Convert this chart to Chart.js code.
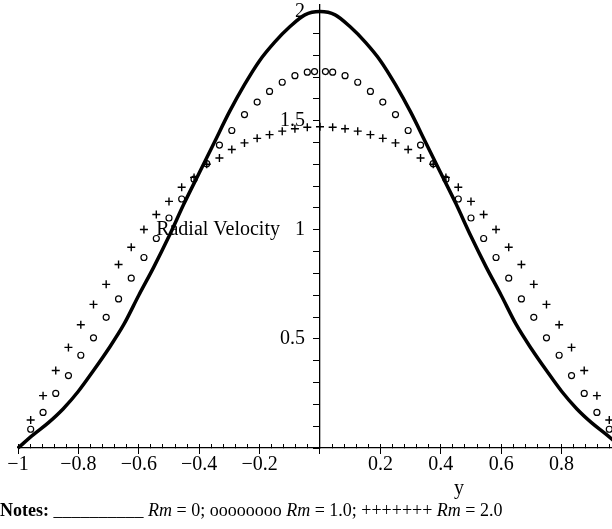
<!DOCTYPE html>
<html><head><meta charset="utf-8">
<script src="https://cdn.jsdelivr.net/npm/chart.js@4/dist/chart.umd.min.js"></script>
<style>
html,body{margin:0;padding:0;background:#fff;}
#wrap{position:relative;width:612px;height:529px;overflow:hidden;}
#note{position:absolute;left:0;top:500px;font-family:"Liberation Serif",serif;font-size:18px;line-height:20px;white-space:pre;color:#000;}
</style></head><body>
<div id="wrap"><canvas id="c" width="612" height="529"></canvas>
<div id="note"><b>Notes:</b> __________ <i>Rm</i> = 0; oooooooo <i>Rm</i> = 1.0; +++++++ <i>Rm</i> = 2.0</div></div>
<script>
// Solid curve, Rm = 0
const lineX = [-1,-0.95,-0.9,-0.85,-0.8,-0.75,-0.7,-0.65,-0.6,-0.55,-0.5,-0.45,-0.4,-0.35,-0.3,-0.25,-0.2,-0.15,-0.1,-0.05,0,
  0.05,0.1,0.15,0.2,0.25,0.3,0.35,0.4,0.45,0.5,0.55,0.6,0.65,0.7,0.75,0.8,0.85,0.9,0.95,1];
const lineY = [0,0.06,0.115,0.18,0.26,0.355,0.455,0.565,0.70,0.83,0.97,1.12,1.26,1.40,1.54,1.665,1.775,1.86,1.93,1.985,2.0,
  1.985,1.93,1.86,1.775,1.665,1.54,1.40,1.26,1.12,0.97,0.83,0.70,0.565,0.455,0.355,0.26,0.18,0.115,0.06,0];
// circles, Rm = 1.0
const circX = [-1,-0.958,-0.917,-0.875,-0.833,-0.792,-0.75,-0.708,-0.667,-0.625,-0.583,-0.542,-0.5,-0.458,-0.417,-0.375,-0.333,-0.292,-0.25,-0.208,-0.167,-0.125,-0.083,-0.042,-0.018,
  0.018,0.042,0.083,0.125,0.167,0.208,0.25,0.292,0.333,0.375,0.417,0.458,0.5,0.542,0.583,0.625,0.667,0.708,0.75,0.792,0.833,0.875,0.917,0.958,1];
const circY = [0,0.086,0.163,0.250,0.332,0.425,0.505,0.599,0.683,0.778,0.873,0.960,1.054,1.141,1.232,1.303,1.388,1.455,1.528,1.585,1.634,1.676,1.706,1.722,1.725,
  1.725,1.722,1.706,1.676,1.634,1.585,1.528,1.455,1.388,1.303,1.232,1.141,1.054,0.960,0.873,0.778,0.683,0.599,0.505,0.425,0.332,0.250,0.163,0.086,0];
// crosses, Rm = 2.0
const plusX = [-1,-0.958,-0.917,-0.875,-0.833,-0.792,-0.75,-0.708,-0.667,-0.625,-0.583,-0.542,-0.5,-0.458,-0.417,-0.375,-0.333,-0.292,-0.25,-0.208,-0.167,-0.125,-0.083,-0.042,0,
  0.042,0.083,0.125,0.167,0.208,0.25,0.292,0.333,0.375,0.417,0.458,0.5,0.542,0.583,0.625,0.667,0.708,0.75,0.792,0.833,0.875,0.917,0.958,1];
const plusY = [0,0.128,0.240,0.355,0.461,0.565,0.658,0.750,0.841,0.920,1.001,1.070,1.130,1.195,1.240,1.300,1.329,1.368,1.398,1.419,1.436,1.452,1.463,1.470,1.472,
  1.470,1.463,1.452,1.436,1.419,1.398,1.368,1.329,1.300,1.240,1.195,1.130,1.070,1.001,0.920,0.841,0.750,0.658,0.565,0.461,0.355,0.240,0.128,0];
const xTickValues = [-1,-0.8,-0.6,-0.4,-0.2,0.2,0.4,0.6,0.8];
const yTickValues = [0.5,1,1.5,2];
const yAxisTitle = 'Radial Velocity';
const xAxisTitle = 'y';

const FONT = {family: '"Liberation Serif", serif', size: 20};
const pts = (X, Y) => X.map((x, i) => ({x, y: Y[i]}));
const near = (v, arr) => arr.find(a => Math.abs(a - v) < 1e-6);
const stepTicks = (lo, hi, step) => { const t = []; for (let k = 0; lo + k * step <= hi + 1e-9; k++) t.push({value: +(lo + k * step).toFixed(4)}); return t; };
const noPad = (s) => { s.paddingLeft = 0; s.paddingRight = 0; s.paddingTop = 0; s.paddingBottom = 0; };

const xTitlePlugin = {
  id: 'xTitle',
  afterDraw(chart) {
    const ctx = chart.ctx, xs = chart.scales.x;
    ctx.save();
    ctx.font = '20px "Liberation Serif", serif';
    ctx.fillStyle = '#000';
    ctx.textAlign = 'center';
    ctx.textBaseline = 'alphabetic';
    ctx.fillText(xAxisTitle, xs.getPixelForValue(0.46), 494);
    ctx.restore();
  }
};

new Chart(document.getElementById('c'), {
  type: 'scatter',
  data: {
    datasets: [
      {data: pts(lineX, lineY), showLine: true, borderColor: '#000', borderWidth: 3.5, pointRadius: 0,
       cubicInterpolationMode: 'monotone', clip: 6},
      {data: pts(circX, circY), pointStyle: 'circle', pointRadius: 3, borderWidth: 1.2,
       borderColor: '#000', backgroundColor: 'rgba(0,0,0,0)', showLine: false},
      {data: pts(plusX, plusY), pointStyle: 'cross', pointRadius: 4, borderWidth: 1.4,
       borderColor: '#000', backgroundColor: '#000', showLine: false}
    ]
  },
  options: {
    responsive: false, animation: false,
    layout: {autoPadding: false, padding: {left: 18, right: 0, top: 5, bottom: 0}},
    plugins: {legend: {display: false}, tooltip: {enabled: false}},
    scales: {
      x: {
        type: 'linear', position: 'bottom', min: -1, max: 0.967,
        border: {display: true, color: '#000', width: 1.3},
        grid: {drawOnChartArea: false, drawTicks: true, tickLength: -4, tickColor: '#000', tickWidth: 1},
        afterBuildTicks: (s) => { s.ticks = stepTicks(-1, 0.96, 0.04); },
        ticks: {autoSkip: false, maxRotation: 0, color: '#000', font: FONT, padding: 9,
          callback: (v) => { const m = near(v, xTickValues); if (m === undefined) return '';
            return (m < 0 ? '\u2212' : '') + String(Math.abs(m)); }},
        afterFit: (s) => { s.height = 81; noPad(s); }
      },
      x2: {
        type: 'linear', position: {y: 0}, min: -1, max: 0.967,
        border: {display: false},
        grid: {drawOnChartArea: false, drawTicks: true, tickLength: 6, tickColor: '#000', tickWidth: 1},
        afterBuildTicks: (s) => { s.ticks = stepTicks(-1, 0.8, 0.2); },
        ticks: {autoSkip: false, display: true, padding: 0, color: 'rgba(0,0,0,0)', font: {size: 1},
          callback: () => ''},
        afterFit: noPad
      },
      y: {
        type: 'linear', position: {x: 0}, min: 0, max: 2.03,
        border: {display: true, color: '#000', width: 1.3},
        grid: {drawOnChartArea: false, drawTicks: true, tickLength: 6, tickColor: '#000', tickWidth: 1},
        afterBuildTicks: (s) => { s.ticks = stepTicks(0, 2, 0.1); },
        ticks: {autoSkip: false, color: '#000', font: FONT, padding: 9,
          callback: (v) => { const m = near(v, yTickValues); if (m === undefined) return '';
            return (m === 1 ? yAxisTitle + '   1' : String(m)) + '   '; }},
        afterFit: noPad
      }
    }
  },
  plugins: [xTitlePlugin]
});
</script>
</body></html>
